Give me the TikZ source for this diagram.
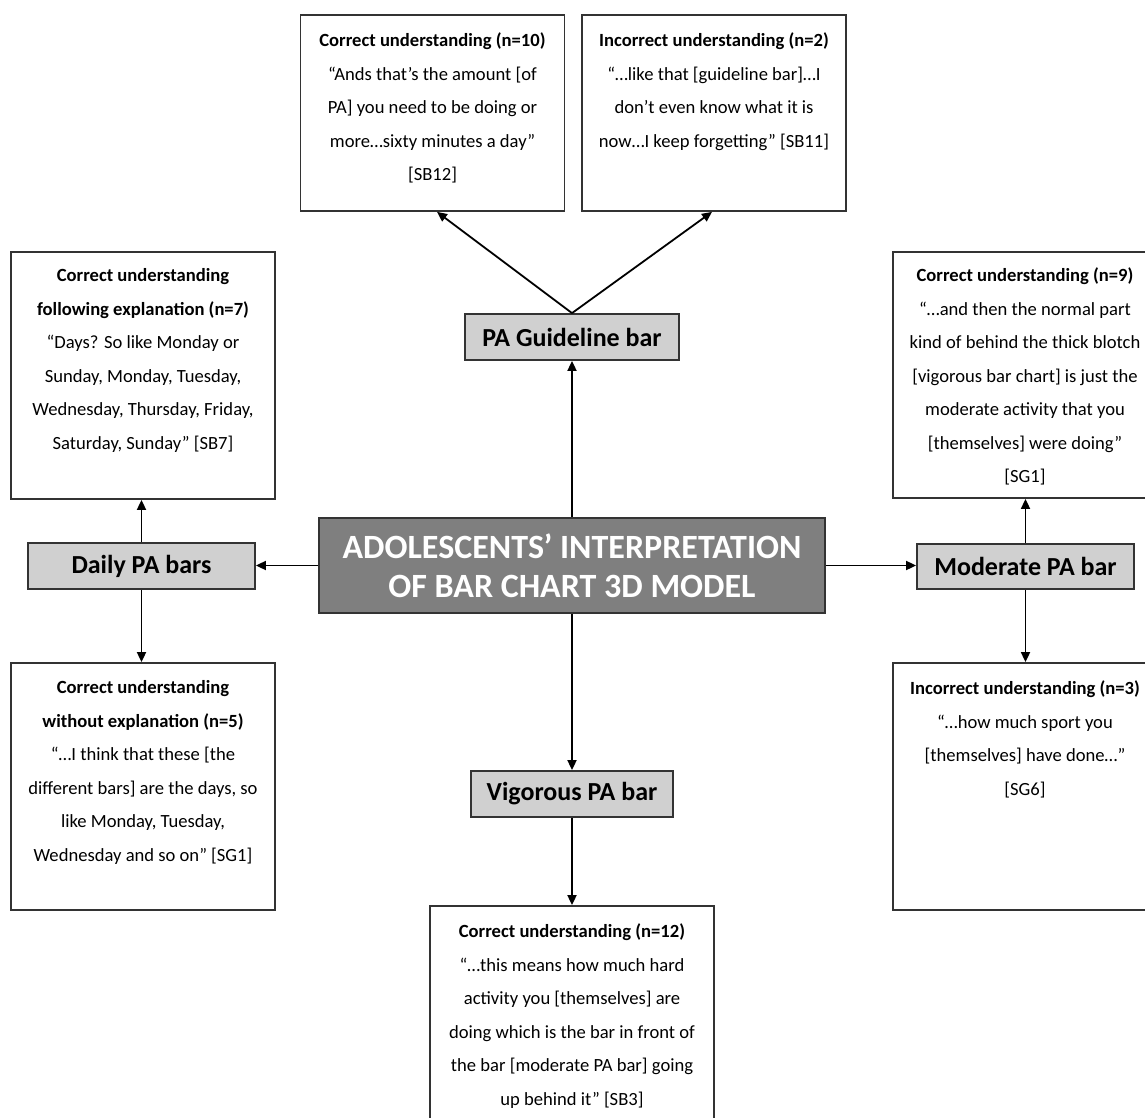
\documentclass[tikz,border=0pt]{standalone}
\usepackage{fontspec}
\setmainfont{Carlito}
\usetikzlibrary{arrows.meta,calc}
\definecolor{edge}{HTML}{333333}
\definecolor{subfill}{HTML}{D0D0D0}
\definecolor{titlefill}{HTML}{7F7F7F}
\begin{document}
\begin{tikzpicture}[x=0.5pt,y=-0.5pt,
  txtbox/.style={draw=edge, line width=0.9pt, fill=white, inner sep=0, minimum width=132pt},
  subbox/.style={draw=edge, line width=0.9pt, fill=subfill, inner sep=0, minimum height=23pt,
    font=\fontsize{13pt}{15pt}\selectfont\bfseries},
  quote/.style={anchor=north, inner sep=0, align=center, font=\fontsize{9.3pt}{16.75pt}\selectfont},
  conn/.style={draw=black, line width=0.9pt, -{Triangle[length=5pt,width=4.5pt]}}]
\useasboundingbox (0,0) rectangle (1145,1118);

% central title
\node[draw=edge, line width=0.9pt, fill=titlefill, inner sep=0, minimum width=253pt, minimum height=47.5pt,
  align=center, text=white, font=\fontsize{17pt}{19.5pt}\selectfont\bfseries]
  (title) at (572,565.5) {ADOLESCENTS’ INTERPRETATION\\OF BAR CHART 3D MODEL};

% category boxes
\node[subbox, minimum width=107pt] (guide) at (572,337) {PA Guideline bar};
\node[subbox, minimum width=113.5pt] (daily) at (141.5,566) {Daily PA bars};
\node[subbox, minimum width=108.5pt, minimum height=22.5pt] (moder) at (1025.5,566.5) {Moderate PA bar};
\node[subbox, minimum width=101pt] (vig) at (572,794) {Vigorous PA bar};

% quote boxes
\node[txtbox, minimum height=98pt] (tl) at (432.5,113) {};
\node[txtbox, minimum height=98pt] (tr) at (714,113) {};
\node[txtbox, minimum height=123.5pt] (lt) at (143,375.5) {};
\node[txtbox, minimum height=123.5pt] (lb) at (143,786.5) {};
\node[txtbox, minimum height=123pt] (rt) at (1025,375) {};
\node[txtbox, minimum height=123.5pt] (rb) at (1025,786.5) {};
\node[txtbox, minimum width=142pt, minimum height=117pt] (bt) at (572,1023) {};

% quote texts
\node[quote] (tlq) at ($(tl.north)+(0,8.6)$) {\bfseries\strut Correct understanding (n=10)\\
  “Ands that’s the amount [of\\PA] you need to be doing or\\more…sixty minutes a day”\\{}[SB12]};
\node[quote] (trq) at ($(tr.north)+(0,8.6)$) {\bfseries\strut Incorrect understanding (n=2)\\
  “…like that [guideline bar]…I\\don't even know what it is\\now…I keep forgetting” [SB11]};
\node[quote] (ltq) at ($(lt.north)+(0,7)$) {\bfseries\strut Correct understanding\\\bfseries following explanation (n=7)\\
  “Days? So like Monday or\\Sunday, Monday, Tuesday,\\Wednesday, Thursday, Friday,\\Saturday, Sunday” [SB7]};
\node[quote] (lbq) at ($(lb.north)+(0,8)$) {\bfseries\strut Correct understanding\\\bfseries without explanation (n=5)\\
  “…I think that these [the\\different bars] are the days, so\\like Monday, Tuesday,\\Wednesday and so on” [SG1]};
\node[quote] (rtq) at ($(rt.north)+(0,7)$) {\bfseries\strut Correct understanding (n=9)\\
  “…and then the normal part\\kind of behind the thick blotch\\{}[vigorous bar chart] is just the\\moderate activity that you\\{}[themselves] were doing”\\{}[SG1]};
\node[quote] (rbq) at ($(rb.north)+(0,8.6)$) {\bfseries\strut Incorrect understanding (n=3)\\
  “…how much sport you\\{}[themselves] have done…”\\{}[SG6]};
\node[quote] (btq) at ($(bt.north)+(0,8.6)$) {\bfseries\strut Correct understanding (n=12)\\
  “…this means how much hard\\activity you [themselves] are\\doing which is the bar in front of\\the bar [moderate PA bar] going\\up behind it” [SB3]};

% connectors
\draw[conn] (title.north) -- (guide.south);
\draw[conn] (guide.north) -- ($(tl.south)+(4.5,0)$);
\draw[conn] (guide.north) -- ($(tr.south)+(-2,0)$);
\draw[conn] (title.west) -- (title.west -| daily.east);
\draw[conn] (daily.north) -- (daily.north |- lt.south);
\draw[conn] (daily.south) -- (daily.south |- lb.north);
\draw[conn] (title.east) -- (title.east -| moder.west);
\draw[conn] (moder.north) -- (moder.north |- rt.south);
\draw[conn] (moder.south) -- (moder.south |- rb.north);
\draw[conn] (title.south) -- (vig.north);
\draw[conn] (vig.south) -- (bt.north);
\end{tikzpicture}
\end{document}
